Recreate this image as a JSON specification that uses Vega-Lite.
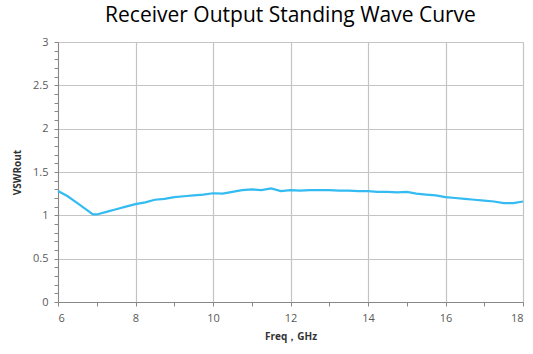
{
  "$schema": "https://vega.github.io/schema/vega-lite/v6.json",
  "width": 465,
  "height": 260,
  "autosize": {"type": "none"},
  "padding": {"left": 58, "top": 42, "right": 10, "bottom": 52},
  "background": "white",
  "title": {"text": "Receiver Output Standing Wave Curve", "font": "Open Sans", "fontSize": 21, "fontWeight": "normal", "color": "#000000", "offset": 10, "anchor": "middle"},
  "config": {"view": {"stroke": null}},
  "data": {"values": [
    {"freq": 6.0, "v": 1.28}, {"freq": 6.25, "v": 1.22}, {"freq": 6.5, "v": 1.14}, {"freq": 6.75, "v": 1.06},
    {"freq": 6.9, "v": 1.01}, {"freq": 7.0, "v": 1.01}, {"freq": 7.25, "v": 1.04}, {"freq": 7.5, "v": 1.07},
    {"freq": 7.75, "v": 1.1}, {"freq": 8.0, "v": 1.13}, {"freq": 8.25, "v": 1.15}, {"freq": 8.5, "v": 1.18},
    {"freq": 8.75, "v": 1.19}, {"freq": 9.0, "v": 1.21}, {"freq": 9.25, "v": 1.22}, {"freq": 9.5, "v": 1.23},
    {"freq": 9.75, "v": 1.24}, {"freq": 10.0, "v": 1.255}, {"freq": 10.25, "v": 1.25}, {"freq": 10.5, "v": 1.27},
    {"freq": 10.75, "v": 1.29}, {"freq": 11.0, "v": 1.3}, {"freq": 11.25, "v": 1.29}, {"freq": 11.5, "v": 1.31},
    {"freq": 11.75, "v": 1.28}, {"freq": 12.0, "v": 1.29}, {"freq": 12.25, "v": 1.285}, {"freq": 12.5, "v": 1.29},
    {"freq": 12.75, "v": 1.29}, {"freq": 13.0, "v": 1.29}, {"freq": 13.25, "v": 1.285}, {"freq": 13.5, "v": 1.285},
    {"freq": 13.75, "v": 1.28}, {"freq": 14.0, "v": 1.28}, {"freq": 14.25, "v": 1.27}, {"freq": 14.5, "v": 1.27},
    {"freq": 14.75, "v": 1.265}, {"freq": 15.0, "v": 1.27}, {"freq": 15.25, "v": 1.25}, {"freq": 15.5, "v": 1.24},
    {"freq": 15.75, "v": 1.23}, {"freq": 16.0, "v": 1.21}, {"freq": 16.25, "v": 1.2}, {"freq": 16.5, "v": 1.19},
    {"freq": 16.75, "v": 1.18}, {"freq": 17.0, "v": 1.17}, {"freq": 17.25, "v": 1.16}, {"freq": 17.5, "v": 1.14},
    {"freq": 17.75, "v": 1.14}, {"freq": 18.0, "v": 1.16}
  ]},
  "mark": {"type": "line", "color": "#33bbf2", "strokeWidth": 2.2, "interpolate": "linear"},
  "encoding": {
    "x": {"field": "freq", "type": "quantitative",
      "scale": {"domain": [6, 18], "nice": false, "zero": false},
      "axis": {
        "title": "Freq，GHz", "titleFont": "Open Sans", "titleFontSize": 10, "titleFontWeight": "bold", "titleColor": "#333333", "titlePadding": 8,
        "values": [6, 7, 8, 9, 10, 11, 12, 13, 14, 15, 16, 17, 18],
        "labelExpr": "datum.value % 2 == 0 ? datum.label : ''",
        "labelFont": "Open Sans", "labelFontSize": 11, "labelColor": "#595959", "labelPadding": 6,
        "tickSize": 4, "tickColor": "#888888", "domainColor": "#888888",
        "gridColor": "#c4c4c4", "gridWidth": 1.2,
        "gridOpacity": {"condition": {"test": "datum.value % 2 == 0", "value": 1}, "value": 0}
      }},
    "y": {"field": "v", "type": "quantitative",
      "scale": {"domain": [0, 3], "nice": false},
      "axis": {
        "title": "VSWRout", "titleFont": "Open Sans", "titleFontSize": 10, "titleFontWeight": "bold", "titleColor": "#333333", "titlePadding": 10,
        "values": [0, 0.1, 0.2, 0.3, 0.4, 0.5, 0.6, 0.7, 0.8, 0.9, 1, 1.1, 1.2, 1.3, 1.4, 1.5, 1.6, 1.7, 1.8, 1.9, 2, 2.1, 2.2, 2.3, 2.4, 2.5, 2.6, 2.7, 2.8, 2.9, 3],
        "format": "~g",
        "labelExpr": "round(datum.value * 10) % 5 == 0 ? datum.label : ''",
        "labelFont": "Open Sans", "labelFontSize": 11, "labelColor": "#595959", "labelPadding": 6,
        "tickSize": 4, "tickColor": "#888888", "domainColor": "#888888",
        "gridColor": "#c4c4c4", "gridWidth": 1.2,
        "gridOpacity": {"condition": {"test": "round(datum.value * 10) % 5 == 0", "value": 1}, "value": 0}
      }}
  }
}
